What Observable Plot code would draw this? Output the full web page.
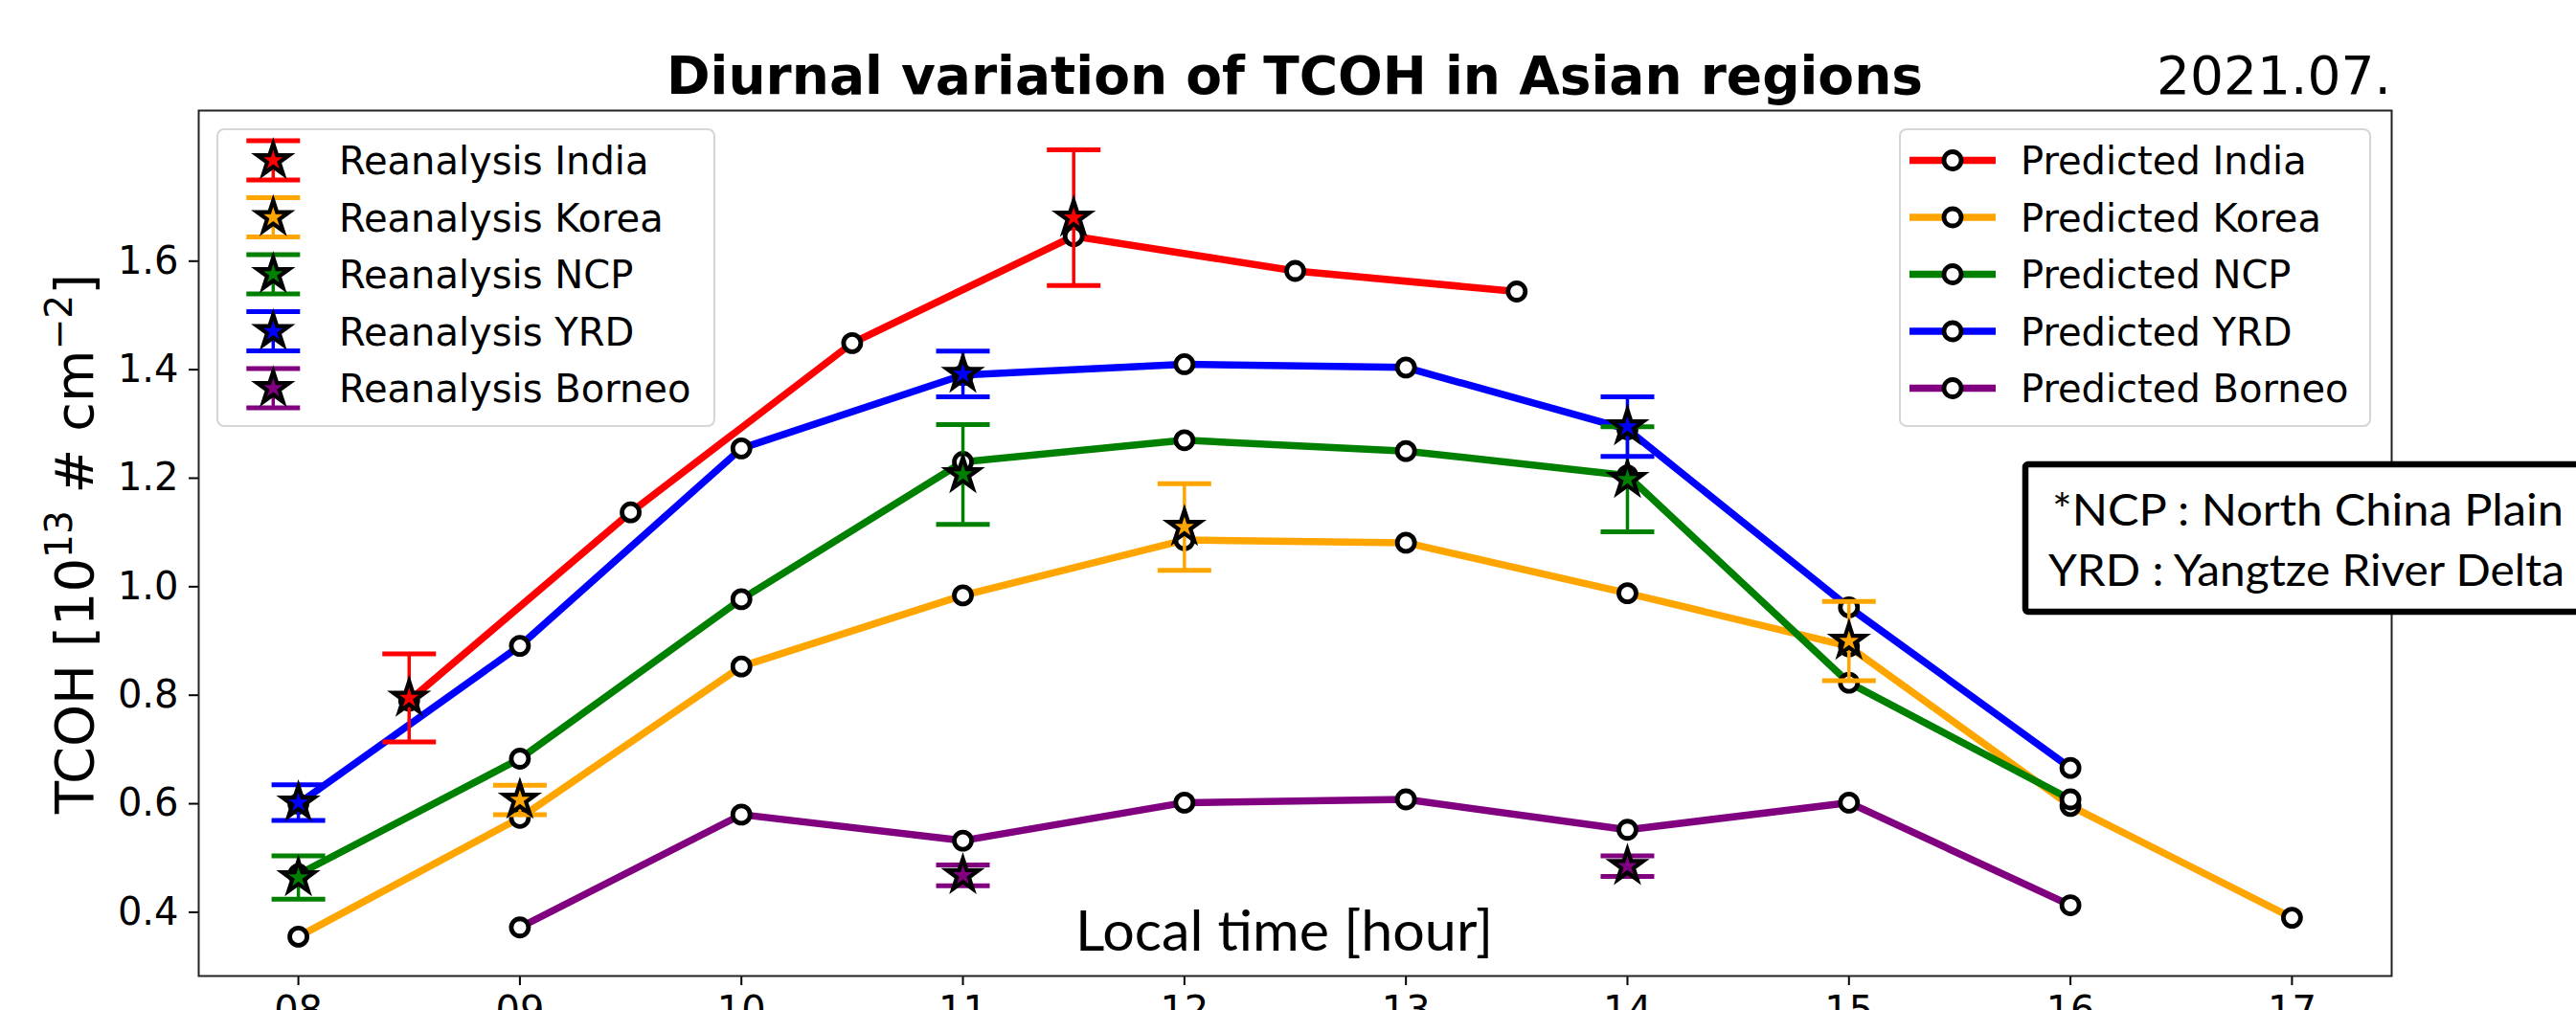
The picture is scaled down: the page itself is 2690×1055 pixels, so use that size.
<!DOCTYPE html>
<html>
<head>
<meta charset="utf-8">
<script src="https://cdn.jsdelivr.net/npm/d3@7"></script>
<script src="https://cdn.jsdelivr.net/npm/@observablehq/plot@0.6"></script>
<style>
  html, body { margin: 0; padding: 0; background: #fff; overflow: hidden; }
  #chart svg { display: block; }
</style>
</head>
<body>
<div id="chart"></div>
<script>
// ---- Series names and colours -------------------------------------------
const regions = ["India", "Korea", "NCP", "YRD", "Borneo"];
const colors = ["red", "orange", "green", "blue", "purple"];

// ---- Axis ticks ------------------------------------------------------------
const xTicks = [8, 9, 10, 11, 12, 13, 14, 15, 16, 17];
const yTicks = [0.4, 0.6, 0.8, 1.0, 1.2, 1.4, 1.6];

// ---- Predicted TCOH (10^13 # cm^-2) by local hour -------------------------
const predIndiaHours = [8.5, 9.5, 10.5, 11.5, 12.5, 13.5];
const predIndia      = [0.79, 1.137, 1.449, 1.646, 1.582, 1.544];
const predKoreaHours = [8, 9, 10, 11, 12, 13, 14, 15, 16, 17];
const predKorea      = [0.355, 0.574, 0.853, 0.984, 1.086, 1.081, 0.988, 0.89, 0.596, 0.39];
const predNCPHours   = [8, 9, 10, 11, 12, 13, 14, 15, 16];
const predNCP        = [0.47, 0.683, 0.977, 1.23, 1.27, 1.25, 1.205, 0.823, 0.608];
const predYRDHours   = [8, 9, 10, 11, 12, 13, 14, 15, 16];
const predYRD        = [0.60, 0.891, 1.255, 1.39, 1.41, 1.404, 1.29, 0.962, 0.666];
const predBorneoHours = [9, 10, 11, 12, 13, 14, 15, 16];
const predBorneo      = [0.372, 0.58, 0.532, 0.602, 0.608, 0.552, 0.602, 0.413];

// ---- Reanalysis TCOH with error half-widths -------------------------------
const reIndiaHours  = [8.5, 11.5];
const reIndia       = [0.795, 1.68];
const reIndiaErr    = [0.081, 0.125];
const reKoreaHours  = [9, 12, 15];
const reKorea       = [0.607, 1.11, 0.90];
const reKoreaErr    = [0.027, 0.08, 0.073];
const reNCPHours    = [8, 11, 14];
const reNCP         = [0.464, 1.207, 1.198];
const reNCPErr      = [0.04, 0.092, 0.097];
const reYRDHours    = [8, 11, 14];
const reYRD         = [0.602, 1.392, 1.295];
const reYRDErr      = [0.033, 0.042, 0.055];
const reBorneoHours = [11, 14];
const reBorneo      = [0.468, 0.485];
const reBorneoErr   = [0.019, 0.019];

// ---- Build tables ----------------------------------------------------------
const rows = (hrs, vals, errs) =>
  hrs.map((h, i) => ({hour: h, value: vals[i], err: errs ? errs[i] : 0}));

const predicted = [
  rows(predIndiaHours, predIndia),
  rows(predKoreaHours, predKorea),
  rows(predNCPHours, predNCP),
  rows(predYRDHours, predYRD),
  rows(predBorneoHours, predBorneo)
];
const reanalysis = [
  rows(reIndiaHours, reIndia, reIndiaErr),
  rows(reKoreaHours, reKorea, reKoreaErr),
  rows(reNCPHours, reNCP, reNCPErr),
  rows(reYRDHours, reYRD, reYRDErr),
  rows(reBorneoHours, reBorneo, reBorneoErr)
];

// Horizontal error-bar cap drawn as a dot symbol
const capSymbol = {
  draw(ctx, size) {
    const w = Math.sqrt(size / Math.PI);
    ctx.moveTo(-w, 0);
    ctx.lineTo(w, 0);
  }
};

const LINE_W = 7.5, CIRCLE_R = 9, CIRCLE_W = 4.8, STAR_R = 10.5, STAR_W = 4.2;
const CAP_R = 28, CAP_W = 5, BAR_W = 3.5;

const marks = [];
predicted.forEach((data, k) => {
  marks.push(Plot.line(data, {x: "hour", y: "value", stroke: colors[k], strokeWidth: LINE_W}));
  marks.push(Plot.dot(data, {x: "hour", y: "value", r: CIRCLE_R, fill: "white", stroke: "black", strokeWidth: CIRCLE_W}));
});
reanalysis.forEach((data, k) => {
  marks.push(Plot.ruleX(data, {x: "hour", y1: d => d.value - d.err, y2: d => d.value + d.err, stroke: colors[k], strokeWidth: BAR_W}));
  marks.push(Plot.dot(data, {x: "hour", y: d => d.value + d.err, symbol: capSymbol, r: CAP_R, fill: "none", stroke: colors[k], strokeWidth: CAP_W}));
  marks.push(Plot.dot(data, {x: "hour", y: d => d.value - d.err, symbol: capSymbol, r: CAP_R, fill: "none", stroke: colors[k], strokeWidth: CAP_W}));
  marks.push(Plot.dot(data, {x: "hour", y: "value", symbol: "star", r: STAR_R, fill: colors[k], stroke: "black", strokeWidth: STAR_W, strokeLinejoin: "miter"}));
});

const chart = Plot.plot({
  width: 2690,
  height: 1055,
  marginLeft: 207,
  marginRight: 193,
  marginTop: 115,
  marginBottom: 36,
  style: {fontFamily: "DejaVu Sans", fontSize: "40px", color: "black", background: "white"},
  x: {domain: [7.55, 17.45]},
  y: {domain: [0.2825, 1.8775]},
  marks: [
    ...marks,
    Plot.axisX({ticks: xTicks, tickFormat: d => String(d).padStart(2, "0"), tickSize: 10, tickPadding: 11,
                strokeWidth: 2, fontSize: 40, label: null}),
    Plot.axisY({ticks: yTicks, tickFormat: d => d.toFixed(1), tickSize: 10, tickPadding: 11,
                strokeWidth: 2, fontSize: 40, label: null}),
    Plot.frame({stroke: "#222", strokeWidth: 2})
  ]
});
document.getElementById("chart").appendChild(chart);

// ---- Titles, axis labels, legends and note -------------------------------
const svg = d3.select(chart);
const MPL = "DejaVu Sans";
const OFFICE = "Lato, 'Open Sans', sans-serif";

svg.append("text")
  .attr("x", 1352).attr("y", 98).attr("text-anchor", "middle")
  .attr("font-family", MPL).attr("font-weight", "bold").attr("font-size", 55).attr("fill", "black")
  .text("Diurnal variation of TCOH in Asian regions");

svg.append("text")
  .attr("x", 2497).attr("y", 98).attr("text-anchor", "end")
  .attr("font-family", MPL).attr("font-size", 55).attr("fill", "black")
  .text("2021.07.");

const yl = svg.append("text")
  .attr("transform", "translate(97,568) rotate(-90)").attr("text-anchor", "middle")
  .attr("font-family", MPL).attr("font-size", 56).attr("fill", "black");
yl.append("tspan").text("TCOH [10");
yl.append("tspan").attr("dy", -22).attr("font-size", 39).text("13");
yl.append("tspan").attr("dy", 22).text(" # cm");
yl.append("tspan").attr("dy", -22).attr("font-size", 39).text("\u22122");
yl.append("tspan").attr("dy", 22).text("]");

svg.append("text")
  .attr("x", 1123).attr("y", 993).attr("text-anchor", "start")
  .attr("font-family", OFFICE).attr("font-size", 58).attr("fill", "black")
  .attr("textLength", 436).attr("lengthAdjust", "spacingAndGlyphs")
  .text("Local time [hour]");

// Reanalysis legend (upper left)
const rowY = i => 167.5 + 59.5 * i;
const gl = svg.append("g");
gl.append("rect").attr("x", 227).attr("y", 135).attr("width", 519).attr("height", 310).attr("rx", 7)
  .attr("fill", "white").attr("fill-opacity", 0.8).attr("stroke", "#d6d6d6").attr("stroke-width", 2);
const starPath = d3.symbol(d3.symbolStar, Math.PI * STAR_R * STAR_R)();
regions.forEach((name, i) => {
  const cy = rowY(i), cx = 285.3;
  gl.append("line").attr("x1", cx).attr("x2", cx).attr("y1", cy - 20.5).attr("y2", cy + 20.5)
    .attr("stroke", colors[i]).attr("stroke-width", BAR_W);
  [cy - 20.5, cy + 20.5].forEach(y => {
    gl.append("line").attr("x1", cx - CAP_R).attr("x2", cx + CAP_R).attr("y1", y).attr("y2", y)
      .attr("stroke", colors[i]).attr("stroke-width", CAP_W);
  });
  gl.append("path").attr("d", starPath).attr("transform", `translate(${cx},${cy})`)
    .attr("fill", colors[i]).attr("stroke", "black").attr("stroke-width", STAR_W);
  gl.append("text").attr("x", 354).attr("y", cy + 14.5).attr("text-anchor", "start")
    .attr("font-family", MPL).attr("font-size", 40).attr("fill", "black")
    .text("Reanalysis " + name);
});

// Predicted legend (upper right)
const gr = svg.append("g");
gr.append("rect").attr("x", 1984).attr("y", 135).attr("width", 491).attr("height", 310).attr("rx", 7)
  .attr("fill", "white").attr("fill-opacity", 0.8).attr("stroke", "#d6d6d6").attr("stroke-width", 2);
regions.forEach((name, i) => {
  const cy = rowY(i);
  gr.append("line").attr("x1", 1994).attr("x2", 2084).attr("y1", cy).attr("y2", cy)
    .attr("stroke", colors[i]).attr("stroke-width", LINE_W);
  gr.append("circle").attr("cx", 2039).attr("cy", cy).attr("r", CIRCLE_R)
    .attr("fill", "white").attr("stroke", "black").attr("stroke-width", CIRCLE_W);
  gr.append("text").attr("x", 2110).attr("y", cy + 14.5).attr("text-anchor", "start")
    .attr("font-family", MPL).attr("font-size", 40).attr("fill", "black")
    .text("Predicted " + name);
});

// Abbreviation note
const gn = svg.append("g");
gn.append("rect").attr("x", 2115).attr("y", 485).attr("width", 700).attr("height", 154).attr("rx", 3)
  .attr("fill", "white").attr("stroke", "black").attr("stroke-width", 6.5);
gn.append("text").attr("x", 2143).attr("y", 549).attr("text-anchor", "start")
  .attr("font-family", OFFICE).attr("font-size", 47).attr("fill", "black")
  .attr("textLength", 534).attr("lengthAdjust", "spacingAndGlyphs")
  .text("*NCP : North China Plain");
gn.append("text").attr("x", 2139).attr("y", 612).attr("text-anchor", "start")
  .attr("font-family", OFFICE).attr("font-size", 47).attr("fill", "black")
  .attr("textLength", 539).attr("lengthAdjust", "spacingAndGlyphs")
  .text("YRD : Yangtze River Delta");
</script>
</body>
</html>
